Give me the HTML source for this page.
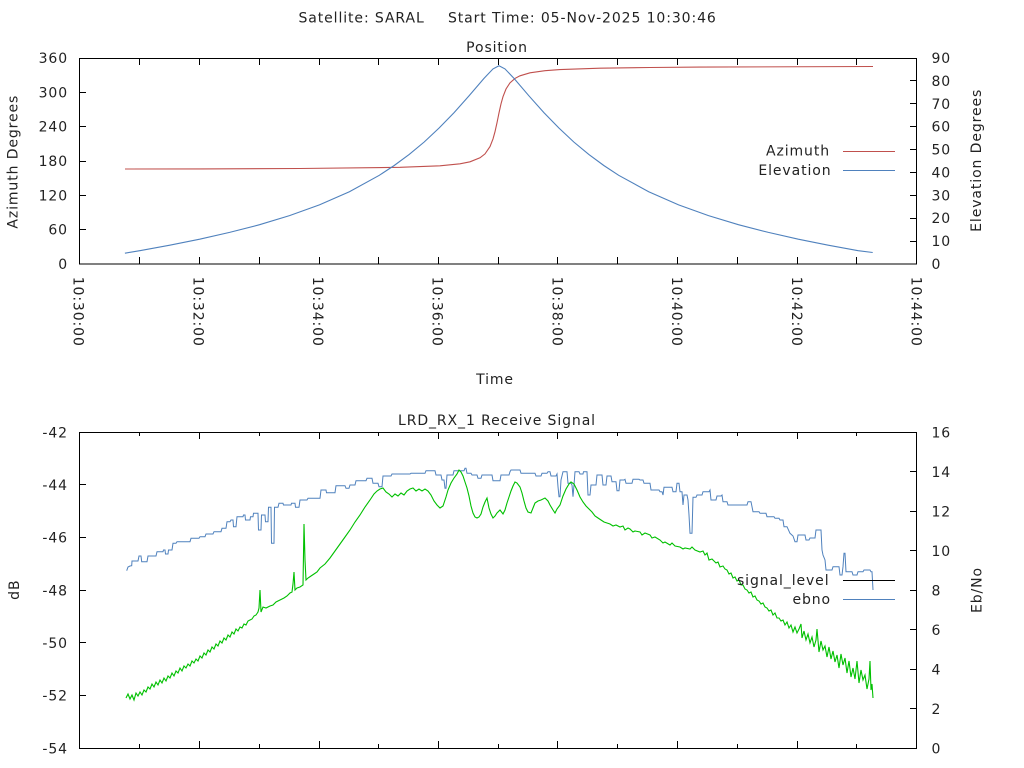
<!DOCTYPE html>
<html>
<head>
<meta charset="utf-8">
<style>
html,body{margin:0;padding:0;background:#fff;}
svg{display:block;}
text{font-family:"DejaVu Sans","Liberation Sans",sans-serif;font-size:14px;letter-spacing:0.9px;fill:#222;}
</style>
</head>
<body>
<svg width="1024" height="768" viewBox="0 0 1024 768" xmlns="http://www.w3.org/2000/svg">
<rect x="0" y="0" width="1024" height="768" fill="#fff"/>

<!-- Titles -->
<text x="298.5" y="22.7">Satellite: SARAL</text>
<text x="448" y="22.7">Start Time: 05-Nov-2025 10:30:46</text>
<text x="497" y="52" text-anchor="middle">Position</text>

<!-- ===== TOP PLOT ===== -->
<g shape-rendering="crispEdges" stroke="#000" stroke-width="1" fill="none">
  <rect x="79.5" y="58.5" width="837" height="205.5"/>
  <path d="M139.5,264v-7M199.5,264v-7M259.5,264v-7M319.5,264v-7M378.5,264v-7M438.5,264v-7M498.5,264v-7M557.5,264v-7M617.5,264v-7M677.5,264v-7M737.5,264v-7M797.5,264v-7M856.5,264v-7"/>
  <path d="M139.5,58v7M199.5,58v7M259.5,58v7M319.5,58v7M378.5,58v7M438.5,58v7M498.5,58v7M557.5,58v7M617.5,58v7M677.5,58v7M737.5,58v7M797.5,58v7M856.5,58v7"/>
  <path d="M79,229.5h7M79,195.5h7M79,161.5h7M79,126.5h7M79,92.5h7"/>
  <path d="M917,241.5h-7M917,218.5h-7M917,195.5h-7M917,172.5h-7M917,149.5h-7M917,126.5h-7M917,103.5h-7M917,80.5h-7"/>
</g>

<g text-anchor="end">
<text x="68" y="269">0</text>
<text x="68" y="234.7">60</text>
<text x="68" y="200.3">120</text>
<text x="68" y="166">180</text>
<text x="68" y="131.7">240</text>
<text x="68" y="97.3">300</text>
<text x="68" y="63">360</text>
</g>
<g>
<text x="931.5" y="269">0</text>
<text x="931.5" y="246.1">10</text>
<text x="931.5" y="223.2">20</text>
<text x="931.5" y="200.3">30</text>
<text x="931.5" y="177.4">40</text>
<text x="931.5" y="154.6">50</text>
<text x="931.5" y="131.7">60</text>
<text x="931.5" y="108.8">70</text>
<text x="931.5" y="85.9">80</text>
<text x="931.5" y="63">90</text>
</g>

<text transform="translate(17.3,161.7) rotate(-90)" text-anchor="middle">Azimuth Degrees</text>
<text transform="translate(981,160.3) rotate(-90)" text-anchor="middle">Elevation Degrees</text>

<text transform="translate(73.5,276.7) rotate(90)">10:30:00</text>
<text transform="translate(193.5,276.7) rotate(90)">10:32:00</text>
<text transform="translate(313,276.7) rotate(90)">10:34:00</text>
<text transform="translate(432.7,276.7) rotate(90)">10:36:00</text>
<text transform="translate(552.4,276.7) rotate(90)">10:38:00</text>
<text transform="translate(672.1,276.7) rotate(90)">10:40:00</text>
<text transform="translate(791.8,276.7) rotate(90)">10:42:00</text>
<text transform="translate(911.5,276.7) rotate(90)">10:44:00</text>

<text x="495" y="384" text-anchor="middle">Time</text>

<text x="830" y="155.7" text-anchor="end">Azimuth</text>
<text x="831.5" y="175" text-anchor="end">Elevation</text>
<path d="M843,151.5H895" stroke="#c0504d" stroke-width="1" shape-rendering="crispEdges"/>
<path d="M843,170.5H895" stroke="#4f81bd" stroke-width="1" shape-rendering="crispEdges"/>

<polyline fill="none" stroke="#c0504d" stroke-width="1.1" points="125,169 200,168.9 300,168.5 400,167.3 440,165.8 460,163.8 470,161.8 480,157.8 485,153.9 490,146.6 493,138.9 495,131.7 497,122.7 498,117.8 499,112.9 501,103.9 503,96.7 506,89 510,82.8 515,78.4 520,75.8 530,72.8 545,70.7 560,69.6 600,68.2 650,67.5 700,67.1 800,66.75 873,66.5"/>

<polyline fill="none" stroke="#4f81bd" stroke-width="1.1" points="124.9,253.2 139.8,250.65 169.8,245.2 199.7,239.2 229.6,232.4 259.6,224.7 289.5,215.6 319.4,204.9 349.4,191.7 379.3,175.3 394.2,165.5 409.2,154.4 424.2,142 439.1,128 454.1,112.6 469.1,95.8 484,78.4 493,68.9 499,65.8 505,68.9 514,78.4 528.9,95.8 543.9,112.6 558.9,128 573.8,142 588.8,154.4 603.8,165.5 618.7,175.3 648.7,191.7 678.6,204.9 708.5,215.6 738.4,224.7 768.4,232.4 798.3,239.2 828.2,245.2 858.2,250.65 872.7,252.5"/>

<!-- ===== BOTTOM PLOT ===== -->
<text x="497" y="425" text-anchor="middle">LRD_RX_1 Receive Signal</text>
<g shape-rendering="crispEdges" stroke="#000" stroke-width="1" fill="none">
  <rect x="79.5" y="432.5" width="837" height="316"/>
  <path d="M139.5,748v-4M199.5,748v-7M259.5,748v-4M319.5,748v-7M378.5,748v-4M438.5,748v-7M498.5,748v-4M557.5,748v-7M617.5,748v-4M677.5,748v-7M737.5,748v-4M797.5,748v-7M856.5,748v-4"/>
  <path d="M139.5,432v4M199.5,432v7M259.5,432v4M319.5,432v7M378.5,432v4M438.5,432v7M498.5,432v4M557.5,432v7M617.5,432v4M677.5,432v7M737.5,432v4M797.5,432v7M856.5,432v4"/>
  <path d="M79,695.5h7M79,642.5h7M79,590.5h7M79,537.5h7M79,484.5h7"/>
  <path d="M917,708.5h-7M917,669.5h-7M917,629.5h-7M917,590.5h-7M917,550.5h-7M917,511.5h-7M917,471.5h-7"/>
</g>
<g text-anchor="end">
<text x="68" y="753.3">-54</text>
<text x="68" y="700.6">-52</text>
<text x="68" y="648">-50</text>
<text x="68" y="595.3">-48</text>
<text x="68" y="542.6">-46</text>
<text x="68" y="490">-44</text>
<text x="68" y="437.3">-42</text>
</g>
<g>
<text x="931.5" y="753.3">0</text>
<text x="931.5" y="713.8">2</text>
<text x="931.5" y="674.3">4</text>
<text x="931.5" y="634.8">6</text>
<text x="931.5" y="595.3">8</text>
<text x="931.5" y="555.8">10</text>
<text x="931.5" y="516.3">12</text>
<text x="931.5" y="476.8">14</text>
<text x="931.5" y="437.3">16</text>
</g>
<text transform="translate(19,589.7) rotate(-90)" text-anchor="middle">dB</text>
<text transform="translate(981.5,590) rotate(-90)" text-anchor="middle">Eb/No</text>

<polyline fill="none" stroke="#4f81bd" stroke-width="1" points="126.7,570.7 128,567 130,566 131.7,565.7 132,561 138,561 139,556 141,556 141.7,561.7 147,561.7 148,556 156,556 157,551.7 163,551.7 163.5,550 165,550 165.5,554 168,554 168.5,550 172,550 173,543.3 176,543.3 177,541.7 190,541.7 191,538.3 199,538.3 200,536.7 205,536.7 206,534 213,534 214,531.7 221,531.7 222,528.3 226,528.3 227,521.7 230,521.7 231,520 233,520 233.5,526.7 236,526.7 237,516.7 243,516.7 243.5,515 245,515 245.5,520 250,520 250.5,516.7 253,516.7 253.5,513.3 258,513.3 258.5,530 261,530 261.5,515 265,515 265.5,521.7 268,521.7 268.5,507.3 271,507.3 271.5,543.3 274,543.3 274.5,507.3 278,507.3 279,503.3 283,503.3 283.5,505 291,505 291.5,503.3 295,503.3 295.5,507.3 299,507.3 300,500 307,500 308,498.3 320,498.3 321,490 326,490 326.5,492.7 335,492.7 336,485.7 345,485.7 346,488.3 349,488.3 350,485 355,485 356,480.7 366,480.7 367,478.3 372,478.3 373,483.3 378,483.3 379,486.7 382,486.7 383,476 391,476 392,474 410,474 411,473.3 425,473.3 426,470.7 435,470.7 436,475 441,475 442,480 444,480 445,488.3 446,488.3 447,475 453,475 454,470.7 464,470.7 465,468.3 466,468.3 467,473.3 471,473.3 472,475 477,475 478,478.3 481,478.3 482,475 492,475 493,480.7 500,480.7 501,475 509,475 510,471.7 511,470 520,470 521,473.3 535,473.3 536,476 541,476 542,473.3 547,473.3 548,471.7 550,471.7 551,476 556,476 557,474 558,486.7 559,496.7 560,496.7 561,480 563,471.7 567,471.7 568,483.3 571,483.3 572,485 573,496.7 574,485 575,471.7 579,471.7 580,474 583,474 583.5,471.7 587,471.7 588,495 590,495 591,485 596,485 597,475 602,475 603,485 606,485 607,476 611,476 612,481.7 616,481.7 617,490.7 619,490.7 620,480 624,480 625,479.3 626,483.3 632,483.3 633,479.3 639,479.3 640,480 643,480 644,483.3 650,483.3 651,490 659,490 660,491.7 662,491.7 663,495 664,487.3 672,487.3 673,491.7 676,491.7 677,483.3 679,483.3 680,491.7 682,491.7 683,505 684,495 687,495 688,500 689,515 690,533.3 692,533.3 693,497.3 696,497.3 697,495 702,495 703,491.7 709,491.7 710,490 711,500 716,500 717,496 721,496 722,495 723,501.7 727,501.7 728,505 747,505 748,501.7 751,501.7 752,506.7 753,511.7 759,511.7 760,513.3 766,513.3 767,516.7 774,516.7 775,518.3 779,518.3 780,520 783,520 784,526.7 787,526.7 790,533.3 793,536 795,541.7 797,541.7 798,535 805,535 806,540 809,540 810,538 815,538 816,530 821,530 822,550 823,555 825,560 826,570 832,570 833,566.7 839,566.7 840,575 842,575 843,566.7 844,553.3 845,553.3 846,571.7 852,571.7 853,575 857,575 858,571.7 863,571.7 864,570 870,570 871,571.7 872,571.7 873,590"/>

<polyline fill="none" stroke="#00c000" stroke-width="1.1" points="126,698 128,694 130,699 132,695 134,700 136,693 138,696 140,692 142,695 144,690 146,692 148,687 150,689 152,684 154,687 156,682 158,685 160,680 162,683 164,678 166,681 168,676 170,678 172,673 174,676 176,671 178,673 180,668 182,671 184,666 186,668 188,664 190,666 192,661 194,663 196,659 198,661 200,656 202,658 204,653 206,655 208,650 210,652 212,647 214,649 216,644 218,646 220,641 222,643 224,638 226,640 228,635 230,637 232,632 234,634 236,629 238,631 240,627 242,628 244,624 246,625 248,621 250,620 252,619 254,616 256,615 258,612 259,608 260,590 261,612 263,607 266,608 270,606 273,605 276,602 280,600 284,598 287,596 290,593 292,592 293,584 294,572 295,590 297,588 300,587 303,585 304,524 305,560 306,580 308,578 311,576 314,574 317,572 320,568 325,564 330,558 335,551 340,544 345,537 350,530 355,522 360,515 365,507 370,500 374,494 377,491 380,489 383,488 386,492 389,494 392,497 395,494 398,496 401,493 404,495 407,491 410,489 413,488 416,491 419,489 422,491 425,489 428,491 431,495 434,501 437,505 440,508 443,506 446,497 448,490 451,483 454,478 457,474 459,470 461,472 463,476 465,482 467,488 469,496 471,506 473,513 475,517 477,518 479,517 481,514 483,507 485,502 487,498 489,508 491,514 493,518 495,516 497,513 500,510 503,514 505,510 507,503 509,497 511,491 513,486 515,482 517,483 520,487 522,493 524,501 526,508 528,512 531,513 533,508 535,503 538,501 541,500 545,498 548,501 550,505 553,510 555,513 557,509 560,505 563,496 566,489 569,484 571,482 574,484 577,490 580,497 583,502 586,506 589,509 592,512 595,516 598,518 601,520 604,522 607,523 610,524 613,526 616,525 620,527 623,526 625,530 628,528 630,529 633,532 635,531 640,532 642,535 645,533 650,535 652,538 655,537 660,540 663,543 665,542 670,545 672,543 675,546 680,547 683,549 685,548 690,549 692,547 695,550 700,552 703,551 705,555 707,553 709,560 712,559 714,561 716,563 718,562 720,567 723,566 725,569 727,570 729,574 731,573 733,578 735,577 737,581 739,580 741,585 743,585 745,589 747,590 749,593 751,592 753,597 755,596 757,600 759,601 761,604 763,603 765,607 767,608 769,611 771,610 773,615 775,613 777,618 779,618 781,621 783,620 785,625 787,622 789,628 791,625 793,632 795,627 797,633 799,629 801,624 802,638 804,631 806,640 808,634 810,643 812,637 814,647 816,640 817,629 819,652 821,641 823,650 825,646 827,657 829,647 831,659 833,651 835,662 837,655 839,668 841,654 843,665 845,658 847,673 849,661 851,677 853,668 855,679 857,661 859,683 861,670 863,680 865,675 867,689 869,679 870,661 871,690 872,684 873,698"/>

<text x="829.5" y="585" text-anchor="end">signal_level</text>
<text x="831" y="604" text-anchor="end">ebno</text>
<path d="M843,580.5H895" stroke="#000" stroke-width="1" shape-rendering="crispEdges"/>
<path d="M843,599.5H895" stroke="#4f81bd" stroke-width="1" shape-rendering="crispEdges"/>
</svg>
</body>
</html>
